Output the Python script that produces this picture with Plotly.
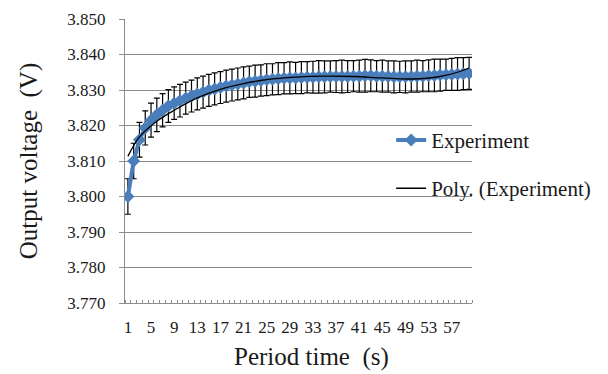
import plotly.graph_objects as go

period = list(range(1, 61))
voltage = [3.8000, 3.8100, 3.8160, 3.8193, 3.8215, 3.8230, 3.8243, 3.8255, 3.8263, 3.8270,
           3.8277, 3.8283, 3.8289, 3.8294, 3.8299, 3.8303, 3.8307, 3.8311, 3.8314, 3.8317,
           3.8320, 3.8323, 3.8325, 3.8327, 3.8329, 3.8330, 3.8332, 3.8333, 3.8334, 3.8334,
           3.8335, 3.8336, 3.8336, 3.8337, 3.8337, 3.8338, 3.8338, 3.8338, 3.8338, 3.8339,
           3.8339, 3.8340, 3.8340, 3.8339, 3.8339, 3.8338, 3.8337, 3.8337, 3.8337, 3.8338,
           3.8339, 3.8339, 3.8340, 3.8341, 3.8342, 3.8343, 3.8344, 3.8345, 3.8346, 3.8347]
error = [0.0050, 0.0050, 0.0049, 0.0048, 0.0048, 0.0047, 0.0047, 0.0046, 0.0046, 0.0046,
         0.0045, 0.0045, 0.0045, 0.0045, 0.0045, 0.0045, 0.0045, 0.0045, 0.0045, 0.0045,
         0.0045, 0.0044, 0.0045, 0.0044, 0.0045, 0.0044, 0.0045, 0.0044, 0.0045, 0.0044,
         0.0045, 0.0044, 0.0045, 0.0046, 0.0045, 0.0044, 0.0045, 0.0046, 0.0045, 0.0044,
         0.0045, 0.0046, 0.0045, 0.0044, 0.0045, 0.0044, 0.0045, 0.0044, 0.0045, 0.0044,
         0.0045, 0.0044, 0.0045, 0.0046, 0.0045, 0.0044, 0.0045, 0.0046, 0.0045, 0.0045]
trend_x = [1, 3, 6, 9, 13, 17, 21, 25, 30, 35, 40, 45, 50, 55, 58, 60]
trend_y = [3.8113, 3.8168, 3.8212, 3.8243, 3.8278, 3.8302, 3.8318, 3.8329, 3.8336, 3.8339,
           3.8338, 3.8334, 3.8331, 3.8338, 3.8350, 3.8362]
x_tick_vals = list(range(1, 61, 4))
x_tick_text = [str(v) for v in x_tick_vals]
y_ticks = [3.770, 3.780, 3.790, 3.800, 3.810, 3.820, 3.830, 3.840, 3.850]
x_title = "Period time  (s)"
y_title = "Output voltage  (V)"

BLUE = "#4A7EBB"
GRID = "#8C8C8C"
FONT = "'Liberation Serif', 'Times New Roman', serif"
tick_font = dict(family=FONT, size=17, color="#1a1a1a")
title_font = dict(family=FONT, size=25, color="#1a1a1a")

fig = go.Figure()
fig.add_trace(go.Scatter(
    x=period, y=voltage, name="Experiment", mode="lines+markers",
    line=dict(color=BLUE, width=4),
    marker=dict(symbol="diamond", size=10, color=BLUE),
    error_y=dict(type="data", array=error, visible=True, color="black", thickness=1.2, width=3),
    legendgroup="a",
))
fig.add_trace(go.Scatter(
    x=trend_x, y=trend_y, name="Poly. (Experiment)", mode="lines",
    line=dict(color="black", width=1.3, shape="spline"),
    legendgroup="b",
))

fig.update_layout(
    width=608, height=374,
    margin=dict(l=124.5, r=124, t=19, b=71.3),
    paper_bgcolor="white", plot_bgcolor="white",
    font=dict(family=FONT, size=17, color="#1a1a1a"),
    legend=dict(x=0.767, y=0.645, xanchor="left", yanchor="top",
                bgcolor="rgba(0,0,0,0)", font=dict(size=21, family=FONT, color="#1a1a1a"),
                tracegroupgap=18),
    xaxis=dict(
        range=[0.5, 60.5], tickmode="array", tickvals=x_tick_vals, ticktext=x_tick_text,
        ticks="", showgrid=False, showline=True, linecolor=GRID, linewidth=1,
        zeroline=False, ticklabelstandoff=9, tickfont=tick_font, automargin=False,
        minor=dict(tick0=0.5, dtick=1, ticks="inside", ticklen=3, tickcolor=GRID, showgrid=False),
    ),
    yaxis=dict(
        range=[3.770, 3.850], tickmode="array", tickvals=y_ticks,
        ticktext=["%.3f" % v for v in y_ticks],
        ticks="outside", ticklen=5, tickcolor=GRID, ticklabelstandoff=10, tickfont=tick_font,
        showgrid=True, gridcolor=GRID, gridwidth=1, automargin=False,
        showline=True, linecolor=GRID, linewidth=1, zeroline=False,
        title=dict(text=y_title, font=title_font, standoff=22),
    ),
    annotations=[dict(
        text=x_title, xref="paper", yref="paper", x=0.538, y=-0.191,
        xanchor="center", yanchor="middle", showarrow=False, font=title_font,
    )],
)

fig.write_html("out.html")
